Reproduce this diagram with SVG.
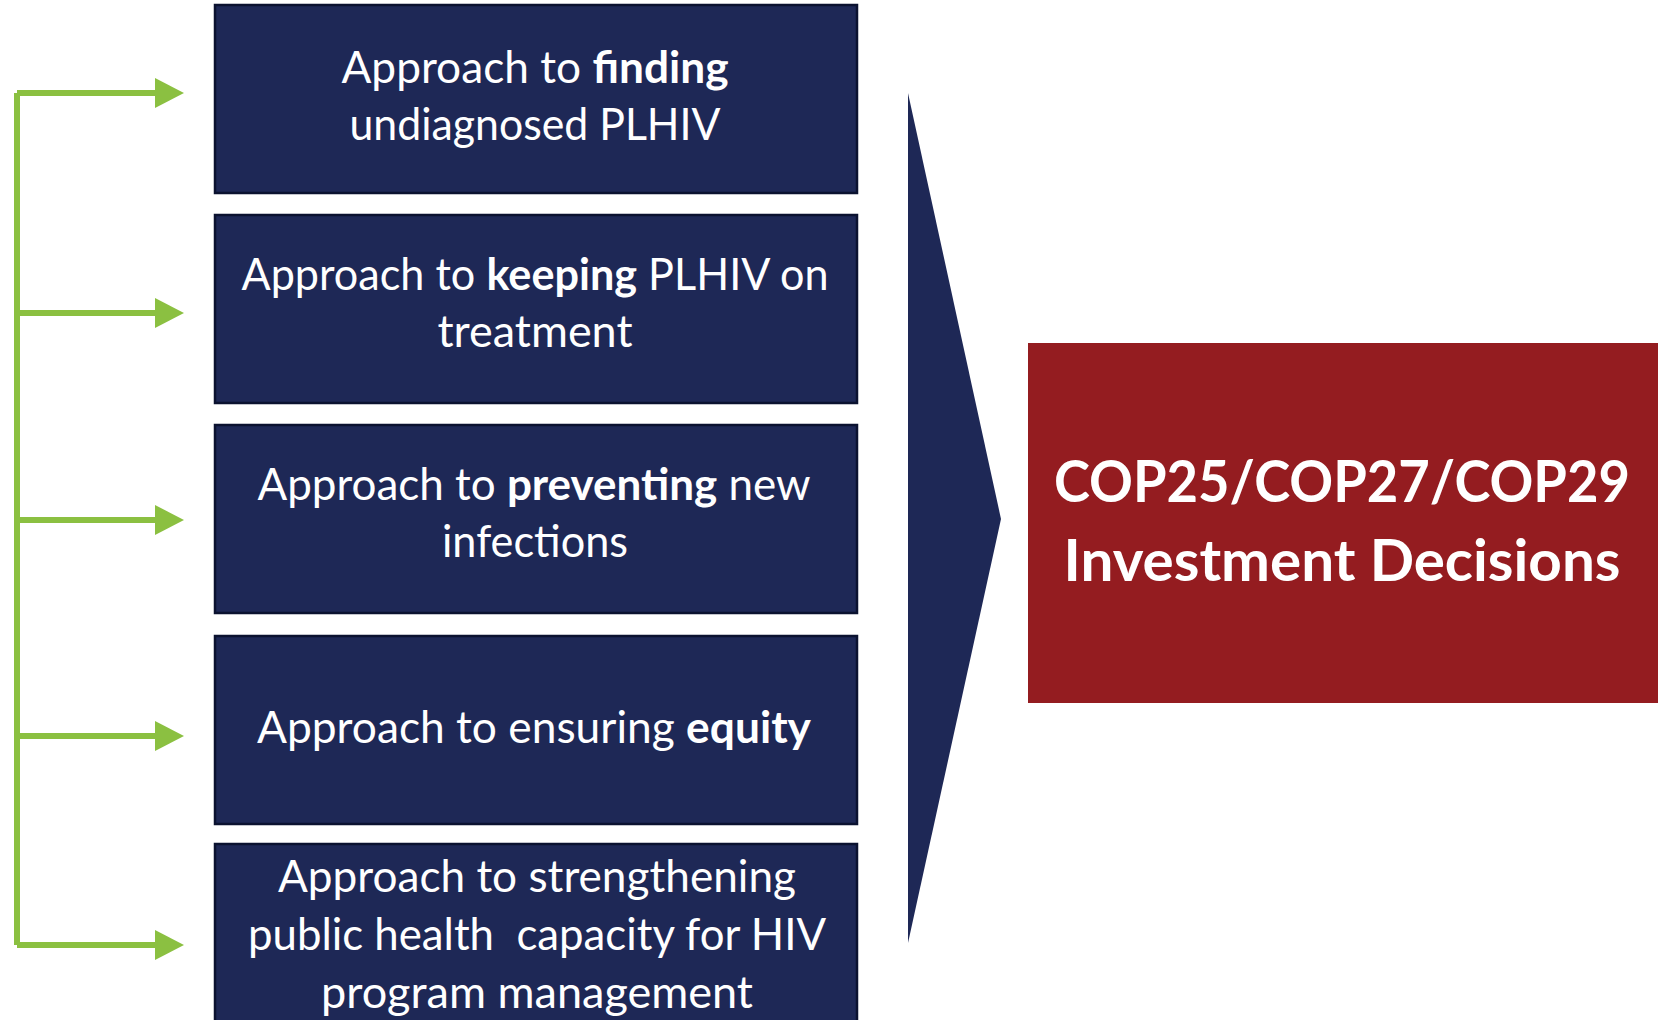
<svg xmlns="http://www.w3.org/2000/svg" width="1665" height="1020" viewBox="0 0 1665 1020">
<style>
.box{fill:#1E2856;stroke:#0B1230;stroke-width:2.5}
.t{font-family:Lato,"Open Sans",sans-serif;font-size:44px;fill:#FFFFFF;text-anchor:middle}
.b{font-weight:bold}
.big{font-family:Lato,"Open Sans",sans-serif;font-size:57px;font-weight:bold;fill:#FFFFFF;text-anchor:middle}
.g{stroke:#8BC041;stroke-width:6;fill:none}
.ah{fill:#8BC041}
</style>
<rect width="1665" height="1020" fill="#FFFFFF"/>
<g id="connectors">
<path class="g" d="M17 93 V945 M17 93 H156 M17 313 H156 M17 520 H156 M17 736 H156 M17 945 H156"/>
<polygon class="ah" points="155,78 184,93 155,108"/>
<polygon class="ah" points="155,298 184,313 155,328"/>
<polygon class="ah" points="155,505 184,520 155,535"/>
<polygon class="ah" points="155,721 184,736 155,751"/>
<polygon class="ah" points="155,930 184,945 155,960"/>
</g>
<g id="node1">
<rect class="box" x="215" y="5" width="642" height="188"/>
<text class="t" x="535" y="83" textLength="387" lengthAdjust="spacingAndGlyphs">Approach to <tspan class="b">finding</tspan></text>
<text class="t" x="535" y="140" textLength="371" lengthAdjust="spacingAndGlyphs">undiagnosed PLHIV</text>
</g>
<g id="node2">
<rect class="box" x="215" y="215" width="642" height="188"/>
<text class="t" x="535" y="290" textLength="587" lengthAdjust="spacingAndGlyphs">Approach to <tspan class="b">keeping</tspan> PLHIV on</text>
<text class="t" x="535" y="347" textLength="195" lengthAdjust="spacingAndGlyphs">treatment</text>
</g>
<g id="node3">
<rect class="box" x="215" y="425" width="642" height="188"/>
<text class="t" x="534" y="500" textLength="553" lengthAdjust="spacingAndGlyphs">Approach to <tspan class="b">preventing</tspan> new</text>
<text class="t" x="535" y="557" textLength="186" lengthAdjust="spacingAndGlyphs">infections</text>
</g>
<g id="node4">
<rect class="box" x="215" y="636" width="642" height="188"/>
<text class="t" x="534" y="743" textLength="554" lengthAdjust="spacingAndGlyphs">Approach to ensuring <tspan class="b">equity</tspan></text>
</g>
<g id="node5">
<rect class="box" x="215" y="844" width="642" height="200"/>
<text class="t" x="537" y="892" textLength="518" lengthAdjust="spacingAndGlyphs">Approach to strengthening</text>
<text class="t" x="537" y="950" textLength="578" lengthAdjust="spacingAndGlyphs" xml:space="preserve">public health  capacity for HIV</text>
<text class="t" x="537" y="1008" textLength="432" lengthAdjust="spacingAndGlyphs">program management</text>
</g>
<g id="chevron">
<polygon points="908,93 1001,519 908,943" fill="#1E2856"/>
</g>
<g id="decisions">
<rect x="1028" y="343" width="630" height="360" fill="#941C20"/>
<text class="big" x="1342" y="502" textLength="576" lengthAdjust="spacingAndGlyphs">COP25/COP27/COP29</text>
<text class="big" x="1342" y="581" textLength="557" lengthAdjust="spacingAndGlyphs">Investment Decisions</text>
</g>
</svg>
